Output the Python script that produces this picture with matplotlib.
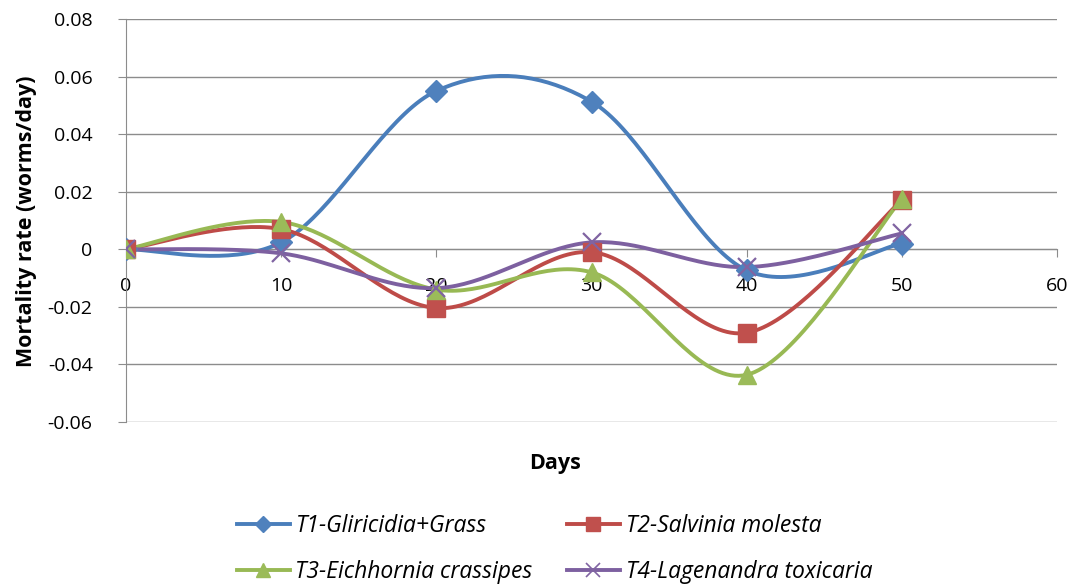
import numpy as np
import matplotlib.pyplot as plt

days = [0, 10, 20, 30, 40, 50]
t1 = [0, 0.0024, 0.055, 0.0513, -0.0073, 0.002]
t2 = [0, 0.007, -0.0204, -0.001, -0.029, 0.017]
t3 = [0, 0.0095, -0.014, -0.008, -0.0436, 0.0175]
t4 = [0, -0.0014, -0.0135, 0.0024, -0.0062, 0.0055]

names = ['T1-Gliricidia+Grass', 'T2-Salvinia molesta',
         'T3-Eichhornia crassipes', 'T4-Lagenandra toxicaria']
line_cols = ['#4A7EBB', '#BE4B48', '#98B954', '#7D60A0']
mark_cols = ['#4F81BD', '#C0504D', '#9BBB59', '#8064A2']
markers = ['D', 's', '^', 'x']
msizes = [11, 13, 13, 13]


def smooth(x, y, n=40):
    # excel-like smoothed line: catmull-rom bezier segments
    p = np.column_stack([x, y]).astype(float)
    p = np.vstack([p[0], p, p[-1]])
    out = []
    t = np.linspace(0, 1, n)[:, None]
    for i in range(1, len(p) - 2):
        a, b = p[i], p[i + 1]
        c1 = a + (p[i + 1] - p[i - 1]) / 6
        c2 = b - (p[i + 2] - p[i]) / 6
        seg = ((1 - t) ** 3) * a + 3 * ((1 - t) ** 2) * t * c1 + 3 * (1 - t) * t ** 2 * c2 + t ** 3 * b
        out.append(seg)
    s = np.vstack(out)
    return s[:, 0], s[:, 1]


fig = plt.figure(figsize=(10.75, 5.88), dpi=100)
ax = fig.add_axes([126 / 1075, 1 - 422 / 588, 931 / 1075, 403 / 588])

handles = []
for ys, lc, mc, m, ms, nm in zip([t1, t2, t3, t4], line_cols, mark_cols, markers, msizes, names):
    sx, sy = smooth(days, ys)
    ax.plot(sx, sy, color=lc, lw=2.8, zorder=3)
    if m == 'x':
        ax.plot(days, ys, ls='none', marker=m, ms=ms, mew=1.6, color=mc, zorder=4)
    else:
        ax.plot(days, ys, ls='none', marker=m, ms=ms, mfc=mc, mec=mc, zorder=4)
    # legend proxy
    h, = ax.plot([], [], color=lc, lw=2.8, marker=m, ms=ms * 0.75, mfc=mc, mec=mc,
                 mew=1.2 if m == 'x' else 1, label=nm)
    handles.append(h)

ax.set_xlim(0, 60)
ax.set_ylim(-0.06, 0.08)
ax.set_yticks(np.arange(-0.06, 0.081, 0.02))
ax.set_yticklabels(['-0.06', '-0.04', '-0.02', '0', '0.02', '0.04', '0.06', '0.08'])
ax.set_xticks(range(0, 61, 10))
ax.grid(axis='y', color='#8C8C8C', lw=1)
ax.set_axisbelow(True)

ax.spines['top'].set_visible(False)
ax.spines['right'].set_visible(False)
ax.spines['bottom'].set_position(('data', 0))
ax.spines['left'].set_color('#8C8C8C')
ax.spines['bottom'].set_color('#8C8C8C')
ax.tick_params(axis='y', length=6, color='#8C8C8C', labelsize=14, pad=18)
ax.tick_params(axis='x', length=6, color='#8C8C8C', labelsize=14, pad=14)
for lab in ax.get_xticklabels() + ax.get_yticklabels():
    lab.set_family('Open Sans')

fig.text(27 / 1075, (1 - 221 / 588), 'Mortality rate (worms/day)', rotation=90,
         va='center', ha='center', fontsize=15.5, fontweight='bold', family='Open Sans')
fig.text(555 / 1075, 1 - 463 / 588, 'Days', ha='center', va='center',
         fontsize=15.5, fontweight='bold', family='Open Sans')

# legend order: T1 T2 / T3 T4 (matplotlib fills by column)
order = [0, 2, 1, 3]
fig.legend([handles[i] for i in order], [names[i] for i in order],
           loc='center left', bbox_to_anchor=(237 / 1075, 1 - 549 / 588), ncol=2,
           frameon=False, borderpad=0, borderaxespad=0,
           prop={'family': 'Open Sans', 'style': 'italic', 'size': 16.5},
           handlelength=2.3, columnspacing=1.5, labelspacing=1.0, handletextpad=0.25)

fig.savefig('out.png', dpi=100)
